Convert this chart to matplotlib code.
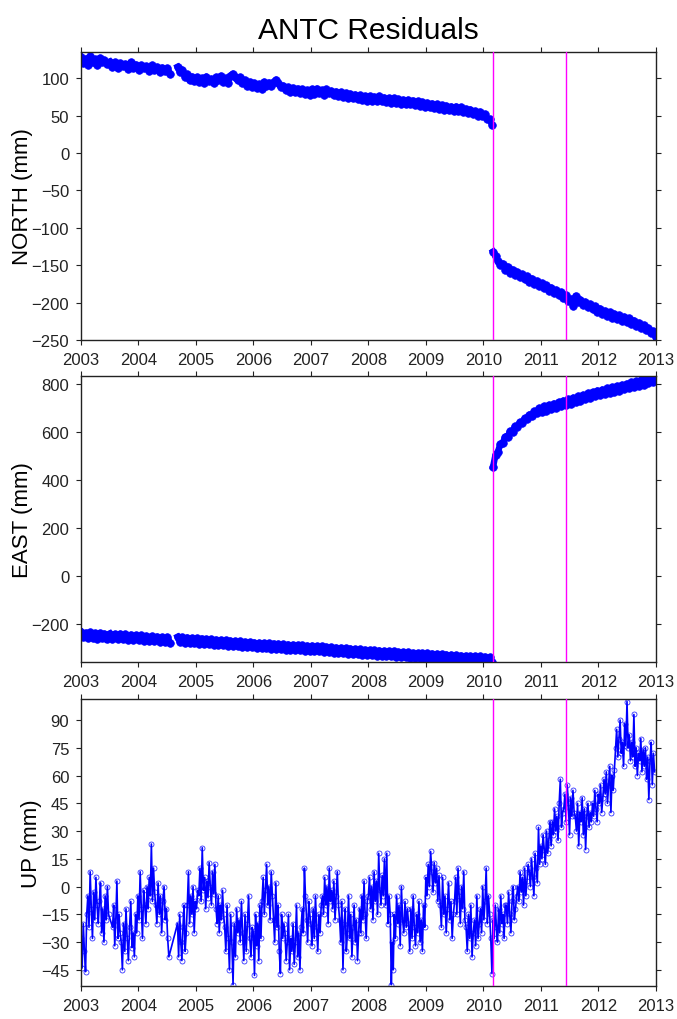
import numpy as np
import matplotlib
matplotlib.use("Agg")
import matplotlib.pyplot as plt
from matplotlib.ticker import MultipleLocator

plt.rcParams['font.family'] = ['Liberation Sans', 'DejaVu Sans']

# --- site ANTC daily residuals (mm), grouped in continuous spans ---
north_spans = [(2003.0, 2003.45), (2003.5, 2004.55), (2004.68, 2010.15), (2010.17, 2013.0)]
north_a = [128, 120, 126, 118, 129, 122, 125, 117, 127, 121, 124, 119]
north_b = [122, 115, 121, 113, 120, 116, 119, 112, 121, 114, 118, 111,
           117, 113, 116, 110, 117, 111, 115, 108, 114, 109, 113, 106]
north_c = [115, 108, 111, 102, 105, 97, 102, 96,
           101, 95, 100, 94, 102, 96, 99, 93, 101, 97, 103, 95,
           100, 94, 103, 106, 102, 97, 101, 93, 97, 90, 95, 88,
           93, 87, 92, 86, 95, 89, 94, 90, 95, 98, 93, 88,
           90, 84, 88, 82, 87, 81, 86, 80, 85, 79, 84, 78,
           85, 79, 86, 80, 84, 78, 85, 80, 83, 77, 82, 76,
           81, 75, 80, 74, 79, 73, 78, 72, 77, 71, 76, 70,
           76, 70, 75, 69, 76, 70, 74, 68, 73, 67, 73, 67,
           72, 66, 71, 65, 71, 65, 70, 64, 69, 63, 68, 62,
           67, 61, 66, 60, 65, 59, 64, 58, 63, 57, 62, 56,
           62, 56, 61, 55, 59, 53, 58, 52, 56, 50, 55, 49,
           52, 46, 45, 38]
north_d = [-132, -138, -145, -150, -148, -156, -152, -160, -156, -163,
           -159, -166, -162, -169, -165, -172, -168, -175, -171, -178,
           -174, -181, -177, -184, -180, -187, -183, -190, -186, -194, -190, -198,
           -195, -205, -191, -199, -196, -203, -199, -206, -202, -209, -205, -212,
           -208, -215, -211, -218, -213, -220, -215, -222, -217, -224, -219, -226,
           -221, -228, -224, -231, -227, -234, -230, -237, -234, -241, -238, -246]

east_spans = north_spans
east_a = [-235, -257, -238, -260, -236, -258, -240, -262, -239, -261, -242, -264]
east_b = [-241, -263, -243, -265, -242, -264, -245, -267, -246, -268, -248, -270,
          -249, -271, -251, -273, -252, -274, -254, -276, -256, -278, -257, -279]
east_c = [-255, -277, -257, -279, -258, -280, -260, -282,
          -261, -283, -262, -284, -264, -286, -265, -287, -267, -289, -268, -290,
          -270, -292, -271, -293, -273, -295, -274, -296, -276, -298, -277, -299,
          -279, -301, -280, -302, -281, -303, -282, -304, -283, -305, -284, -306,
          -286, -308, -287, -309, -288, -310, -289, -311, -291, -313, -292, -314,
          -292, -315, -294, -316, -295, -318, -297, -319, -298, -321, -300, -322,
          -301, -324, -303, -325, -304, -327, -306, -328, -307, -330, -309, -331,
          -310, -332, -311, -333, -312, -334, -314, -336, -315, -337, -316, -338,
          -318, -340, -319, -341, -320, -342, -322, -344, -323, -345, -324, -346,
          -324, -346, -325, -347, -326, -348, -328, -350, -329, -351, -330, -352,
          -331, -353, -333, -355, -334, -356, -335, -357, -336, -358, -337, -358,
          -338, -358, -340, -358]
east_d = [456, 506, 519, 551, 556, 581, 582, 604, 602, 624,
          621, 642, 639, 659, 655, 674, 669, 688, 682, 700,
          685, 709, 690, 714, 696, 720, 702, 726, 708, 732, 714, 738,
          720, 744, 726, 750, 732, 756, 738, 762, 744, 768, 750, 774,
          754, 778, 759, 783, 764, 788, 769, 793, 774, 798, 779, 803,
          784, 808, 789, 813, 794, 818, 799, 823, 804, 828, 810, 834]

up_spans = [(2003.0, 2003.1), (2003.1, 2003.3), (2003.3, 2003.5), (2003.55, 2003.7),
            (2003.7, 2003.95), (2003.95, 2004.15), (2004.15, 2004.3), (2004.3, 2004.55),
            (2004.68, 2004.85), (2004.85, 2005.05), (2005.05, 2005.35), (2005.35, 2005.5),
            (2005.5, 2005.75), (2005.75, 2006.0), (2006.0, 2006.15), (2006.15, 2006.35),
            (2006.35, 2006.55), (2006.55, 2006.85), (2006.85, 2007.0), (2007.0, 2007.2),
            (2007.2, 2007.5), (2007.5, 2007.85), (2007.85, 2008.0), (2008.0, 2008.3),
            (2008.3, 2008.4), (2008.4, 2008.45), (2008.45, 2008.7), (2008.7, 2009.0),
            (2009.0, 2009.25), (2009.25, 2009.5), (2009.5, 2009.7), (2009.7, 2009.95),
            (2009.95, 2010.15), (2010.15, 2010.17), (2010.17, 2010.4), (2010.4, 2010.6),
            (2010.6, 2010.8), (2010.8, 2011.0), (2011.0, 2011.2), (2011.2, 2011.4),
            (2011.4, 2011.6), (2011.6, 2011.9), (2011.9, 2012.1), (2012.1, 2012.3),
            (2012.3, 2012.5), (2012.5, 2012.6), (2012.6, 2012.8), (2012.8, 2013.0)]
up_chunks = [
    [-28, -44, -20, -35, -46],
    [-15, -5, -22, 8, -12, -28, -3, -18, 5, -10],
    [-20, -8, 2, -25, -12, -30, -5, -18, 0, -15],
    [-22, -10, -32, -18, 3, -28, -15, -25],
    [-30, -45, -20, -35, -12, -28, -40, -22, -8, -33, -25, -38],
    [-15, -25, -5, -18, 8, -12, -28, -2, -10, -20],
    [0, -12, 5, -5, 23, -8, 10, -3],
    [-10, -20, 2, -15, -5, -25, -8, 0, -18, -12, -28, -38],
    [-20, -38, -15, -30, -40, -22, -10, -35, -25],
    [-10, 8, -20, -5, -15, 0, -25, -8, -12, -2],
    [-5, 10, -8, 21, -2, 5, -12, 3, -6, 13, 0, -10, 8, -4, 12],
    [-12, -20, -5, -25, -10, -18, -2, -15],
    [-22, -35, -10, -28, -45, -15, -30, -53, -20, -38, -12, -25],
    [-18, -30, -8, -25, -40, -15, -35, -20, -5, -28, -38, -22],
    [-25, -48, -15, -32, -20, -40, -10, -28],
    [-8, 5, -15, -2, 12, -10, 0, -18, 8, -5],
    [-18, -30, 2, -22, -10, -35, -47, -15, -28, -20],
    [-25, -40, -30, -15, -45, -28, -35, -20, -42, -30, -10, -38, -25, -45, -22],
    [-12, -25, 10, -5, -18, -30, -8, -15],
    [-20, -32, -12, -28, -5, -22, -35, -15, -25, -10],
    [-5, -15, 5, -10, 0, -20, 10, -8, -2, -12, 3, -18, -5, 8, -10],
    [-18, -30, -8, -45, -20, -12, -35, -25, -5, -28, -15, -38, -22, -10, -30, -18, -40, -25],
    [-12, -25, -5, -18, 3, -15, -28, -8],
    [-5, 5, -12, 0, -18, 8, -8, 3, -15, 18, -2, -10, 6, -5, 15],
    [-10, 18, -20, -5, -15],
    [-53, -30, -45],
    [-15, -28, -5, -20, -10, -32, 0, -18, -25, -8, -22, -12],
    [-20, -35, -12, -28, -5, -22, -32, -15, -25, -8, -30, -18, -35, -10, -22],
    [5, -5, 12, 0, 19, 8, -3, 13, 2, 10, -8, 6],
    [-10, -22, 5, -15, -5, -25, -12, 2, -18, -8, -28, -15],
    [-8, 5, -15, 10, -5, -20, 0, -12, 8, -18],
    [-22, -35, -15, -28, -10, -38, -25, -18, -32, -5, -28, -20],
    [-12, -25, 0, -18, -8, 10, -20, -5, -15, -28],
    [-47],
    [-18, -28, -10, -22, -30, -12, -25, -5, -20, -15, -28, -10],
    [-10, -20, -3, -15, -25, -8, 0, -18, -12, -5],
    [0, -8, 8, -3, 5, -10, 10, -5, 3, 12],
    [8, 0, 15, 5, -5, 18, 10, 2, 32, 12],
    [22, 15, 28, 20, 12, 30, 18, 25, 35, 22],
    [35, 28, 42, 30, 38, 25, 45, 58, 32, 40],
    [42, 50, 35, 55, 45, 28, 48, 38, 52, 40],
    [38, 30, 45, 22, 40, 35, 48, 28, 42, 20, 38, 45, 32, 40, 35],
    [45, 38, 52, 42, 35, 50, 45, 55, 40, 48],
    [58, 50, 62, 45, 55, 65, 40, 60, 52, 63],
    [75, 85, 70, 80, 90, 72, 78, 65, 88, 76],
    [100, 75, 82, 68, 78],
    [70, 93, 65, 75, 60, 72, 68, 80, 62, 74],
    [65, 75, 58, 70, 47, 68, 78, 55, 72, 62],
]

events = [2010.16, 2011.44]
years = list(range(2003, 2014))


def span_times(span, n, closed=True):
    return np.linspace(span[0], span[1], n, endpoint=closed)


fig = plt.figure(figsize=(6.77, 10.2), dpi=100)
ax1 = fig.add_axes([0.1196, 0.6657, 0.849, 0.2824])
ax2 = fig.add_axes([0.1196, 0.3500, 0.849, 0.2804])
ax3 = fig.add_axes([0.1196, 0.0324, 0.849, 0.2814])

blue = '#0000ff'

# north and east are dense enough to read as a solid band
for span, vals in zip(north_spans, [north_a, north_b, north_c, north_d]):
    ax1.plot(span_times(span, len(vals)), vals, '-o', color=blue, lw=4.6,
             ms=5.5, mew=0.5)
for span, vals in zip(east_spans, [east_a, east_b, east_c, east_d]):
    ax2.plot(span_times(span, len(vals)), vals, '-o', color=blue, lw=4.6,
             ms=5.5, mew=0.5)

up_t = np.concatenate([span_times(s, len(c), closed=False) for s, c in zip(up_spans, up_chunks)])
up_v = np.concatenate(up_chunks)
ax3.plot(up_t, up_v, '-', color=blue, lw=1.2)
ax3.plot(up_t, up_v, 'o', color=blue, ms=3.6, mfc='none', mew=0.6, alpha=0.8)

for ax, lab, lim, step in [(ax1, 'NORTH (mm)', (-250, 135), 50),
                           (ax2, 'EAST (mm)', (-360, 835), 200),
                           (ax3, 'UP (mm)', (-53.7, 101.4), 15)]:
    for ev in events:
        ax.axvline(ev, color='#ff00ff', lw=1.0, zorder=3)
    ax.set_xlim(2003, 2013)
    ax.set_ylim(*lim)
    ax.yaxis.set_major_locator(MultipleLocator(step))
    ax.set_xticks(years)
    ax.set_xticklabels([str(y) for y in years])
    ax.tick_params(direction='out', top=True, right=True, length=3.5,
                   width=0.8, labelsize=12, pad=5, colors='#222222')
    ax.set_ylabel(lab, fontsize=16, labelpad=-1)
    for sp in ax.spines.values():
        sp.set_linewidth(1.0)
        sp.set_color('#222222')

ax1.set_title('ANTC Residuals', fontsize=21.5, pad=10)

fig.savefig('out.png', dpi=100)
